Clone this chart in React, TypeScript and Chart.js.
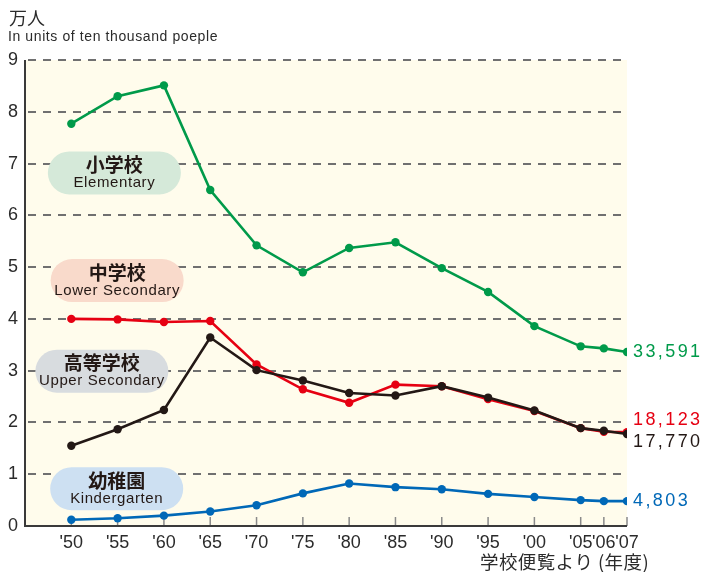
import React, { useEffect, useRef } from "react";
import { Chart, registerables } from "chart.js";

Chart.register(...registerables);

// ---- data ----
const yearLabels = ["'50", "'55", "'60", "'65", "'70", "'75", "'80", "'85", "'90", "'95", "'00", "'05", "'06", "'07"];
// axis slot of each year (5-year steps are one slot, single years half a slot)
const yearSlots = [0, 1, 2, 3, 4, 5, 6, 7, 8, 9, 10, 11, 11.5, 12];

const elementary = [7.77, 8.3, 8.51, 6.49, 5.42, 4.9, 5.37, 5.48, 4.98, 4.52, 3.86, 3.47, 3.43, 3.3591];
const lowerSecondary = [4.0, 3.99, 3.94, 3.96, 3.12, 2.64, 2.38, 2.73, 2.7, 2.45, 2.22, 1.89, 1.82, 1.8123];
const upperSecondary = [1.55, 1.87, 2.24, 3.64, 3.01, 2.81, 2.57, 2.52, 2.7, 2.48, 2.23, 1.89, 1.84, 1.777];
const kindergarten = [0.12, 0.15, 0.2, 0.28, 0.4, 0.63, 0.82, 0.75, 0.71, 0.62, 0.56, 0.5, 0.48, 0.4803];

const endLabels = ["33,591", "18,123", "17,770", "4,803"];
const yTicks = [0, 1, 2, 3, 4, 5, 6, 7, 8, 9];

const GREEN = "#009a4a";
const RED = "#e60012";
const BLACK = "#231815";
const BLUE = "#0068b7";
const TEXT = "#2b2b2b";
const SANS = "'Liberation Sans', Arial, sans-serif";
const CJK = "'Noto Sans CJK JP', sans-serif";

// series name boxes (placed in data coordinates)
const nameBoxes = [
  { jp: "小学校", en: "Elementary", fill: "#d5e9d9", x: 0.93, y: 6.82 },
  { jp: "中学校", en: "Lower Secondary", fill: "#f9dacb", x: 0.99, y: 4.74 },
  { jp: "高等学校", en: "Upper Secondary", fill: "#d8dcdf", x: 0.66, y: 2.99 },
  { jp: "幼稚園", en: "Kindergarten", fill: "#cde0f2", x: 0.98, y: 0.72 },
];

const toPts = (arr: number[]) => arr.map((v, i) => ({ x: yearSlots[i], y: v }));

const decorPlugin = {
  id: "decor",
  beforeDatasetsDraw(chart: any) {
    const { ctx, chartArea: a, scales } = chart;
    const xs = scales.x;
    const ys = scales.y;
    ctx.save();
    // background
    ctx.fillStyle = "#fffcec";
    ctx.fillRect(a.left, a.top, a.right - a.left, a.bottom - a.top);
    // dashed grid
    ctx.strokeStyle = "#707070";
    ctx.lineWidth = 1.8;
    ctx.setLineDash([8, 7]);
    for (const v of yTicks) {
      if (v === 0) continue;
      const y = Math.round(ys.getPixelForValue(v));
      ctx.beginPath();
      ctx.moveTo(a.left + 3, y);
      ctx.lineTo(a.right - 6, y);
      ctx.stroke();
    }
    ctx.setLineDash([]);
    // x tick marks (inward)
    ctx.strokeStyle = "#8a8a8a";
    ctx.lineWidth = 1.5;
    for (const s of yearSlots) {
      const x = xs.getPixelForValue(s);
      ctx.beginPath();
      ctx.moveTo(x, a.bottom);
      ctx.lineTo(x, a.bottom - 9);
      ctx.stroke();
    }
    // axes
    ctx.strokeStyle = "#3a3a3a";
    ctx.lineWidth = 2;
    ctx.beginPath();
    ctx.moveTo(a.left, a.top);
    ctx.lineTo(a.left, a.bottom);
    ctx.lineTo(a.right, a.bottom);
    ctx.stroke();
    // name boxes
    const w = 133;
    const h = 43;
    for (const b of nameBoxes) {
      const cx = xs.getPixelForValue(b.x);
      const cy = ys.getPixelForValue(b.y);
      const l = cx - w / 2;
      const t = cy - h / 2;
      ctx.fillStyle = b.fill;
      ctx.beginPath();
      ctx.roundRect(l, t, w, h, h / 2);
      ctx.fill();
      ctx.fillStyle = BLACK;
      ctx.textAlign = "center";
      ctx.textBaseline = "middle";
      ctx.font = `bold 19px ${CJK}`;
      ctx.fillText(b.jp, cx, cy - 8);
      ctx.font = `15px ${SANS}`;
      (ctx as any).letterSpacing = "0.6px";
      ctx.fillText(b.en, cx, cy + 10);
      (ctx as any).letterSpacing = "0px";
    }
    ctx.restore();
  },
  afterDatasetsDraw(chart: any) {
    const { ctx, chartArea: a, scales } = chart;
    const ys = scales.y;
    const ends = [
      { text: endLabels[0], color: GREEN, v: elementary[elementary.length - 1], dy: 0 },
      { text: endLabels[1], color: RED, v: lowerSecondary[lowerSecondary.length - 1], dy: -12 },
      { text: endLabels[2], color: BLACK, v: upperSecondary[upperSecondary.length - 1], dy: 8 },
      { text: endLabels[3], color: BLUE, v: kindergarten[kindergarten.length - 1], dy: 0 },
    ];
    ctx.save();
    ctx.textAlign = "left";
    ctx.textBaseline = "middle";
    ctx.font = `18px ${SANS}`;
    (ctx as any).letterSpacing = "2.4px";
    for (const e of ends) {
      ctx.fillStyle = e.color;
      ctx.fillText(e.text, a.right + 6, ys.getPixelForValue(e.v) + e.dy);
    }
    // titles
    ctx.fillStyle = TEXT;
    (ctx as any).letterSpacing = "0px";
    ctx.font = `18px ${CJK}`;
    ctx.fillText("万人", 9, 18);
    ctx.font = `14px ${SANS}`;
    (ctx as any).letterSpacing = "0.6px";
    ctx.fillText("In units of ten thousand poeple", 8, 37.5);
    (ctx as any).letterSpacing = "0.4px";
    ctx.font = `18.5px ${CJK}`;
    ctx.fillText("学校便覧より (年度)", 480, 562);
    (ctx as any).letterSpacing = "0px";
    ctx.restore();
  },
};

export default function App() {
  const ref = useRef<HTMLCanvasElement>(null);
  useEffect(() => {
    if (!ref.current) return;
    const mk = (label: string, data: number[], color: string, order: number) => ({
      label,
      data: toPts(data),
      borderColor: color,
      backgroundColor: color,
      pointBackgroundColor: color,
      pointBorderColor: color,
      pointRadius: 4.2,
      pointBorderWidth: 0,
      borderWidth: 2.6,
      tension: 0,
      order,
    });
    const chart = new Chart(ref.current, {
      type: "line",
      data: {
        datasets: [
          mk("高等学校", upperSecondary, BLACK, 0),
          mk("中学校", lowerSecondary, RED, 1),
          mk("小学校", elementary, GREEN, 2),
          mk("幼稚園", kindergarten, BLUE, 3),
        ],
      },
      options: {
        animation: false,
        responsive: false,
        layout: { padding: { top: 60, right: 75, left: 0, bottom: 0 } },
        plugins: { legend: { display: false }, tooltip: { enabled: false } },
        scales: {
          x: {
            type: "linear",
            min: -1,
            max: 12,
            grid: { display: false, drawTicks: false },
            border: { display: false },
            afterBuildTicks: (s: any) => {
              s.ticks = yearSlots.map((v) => ({ value: v }));
            },
            afterFit: (s: any) => {
              s.height = 46;
            },
            ticks: {
              autoSkip: false,
              maxRotation: 0,
              padding: 6,
              color: TEXT,
              font: { size: 18, family: SANS },
              callback: (v: any) => {
                const i = yearSlots.indexOf(Number(v));
                return i >= 0 ? yearLabels[i] : "";
              },
            },
          },
          y: {
            min: 0,
            max: 9,
            grid: { display: false, drawTicks: false },
            border: { display: false },
            afterBuildTicks: (s: any) => {
              s.ticks = yTicks.map((v) => ({ value: v }));
            },
            afterFit: (s: any) => {
              s.width = 25;
            },
            ticks: {
              padding: 7,
              color: TEXT,
              font: { size: 18, family: SANS },
            },
          },
        },
      },
      plugins: [decorPlugin],
    } as any);
    return () => chart.destroy();
  }, []);
  return (
    <div style={{ position: "absolute", left: 0, top: 0, width: 702, height: 572, background: "#fff" }}>
      <canvas ref={ref} width={702} height={572} style={{ display: "block" }} />
    </div>
  );
}
